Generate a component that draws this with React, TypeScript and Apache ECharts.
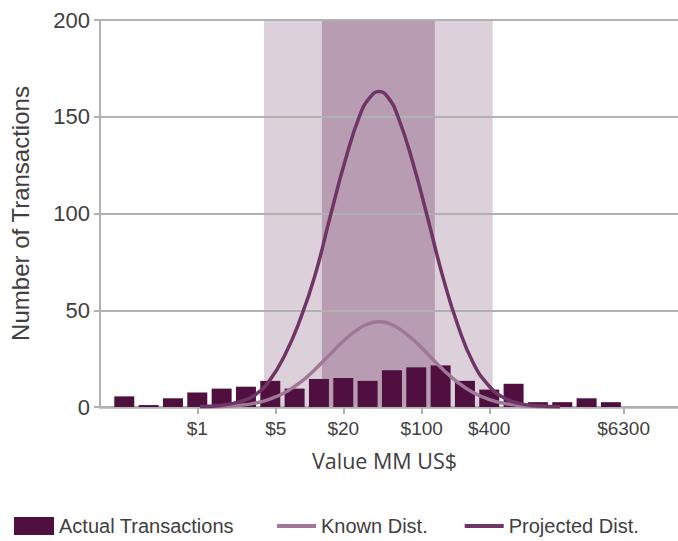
import React, { useEffect, useRef } from "react";
import * as echarts from "echarts";

// Histogram bins (bin centres, US$ millions) and counts
const binCentersUSD = [
  0.2236, 0.3684, 0.607, 1, 1.648, 2.714, 4.472, 7.368, 12.14, 20, 32.95,
  54.29, 89.44, 147.4, 242.8, 400, 659.1, 1086, 1789, 2948, 4857,
];
const actualTransactions = [
  5.5, 1, 4.5, 7.5, 9.5, 10.5, 13.5, 9.5, 14.5, 15, 13.5, 19, 20.5, 21.5, 13.5,
  9, 12, 2.5, 2.5, 4.5, 2.5,
];

// Distribution curves sampled along the x axis (US$ millions)
const curveUSD = [
  1.057, 1.593, 2.402, 3.268, 4.446, 6.047, 8.229, 11.19, 15.23, 20.72, 28.19,
  34.61, 41.64, 50.08, 61.49, 83.66, 113.8, 154.8, 210.6, 286.6, 389.9, 530.4,
  721.6, 1088, 1709,
];
const knownDist = [
  0.1, 0.3, 0.9, 2, 4.1, 7.5, 12.6, 19.4, 27.2, 34.9, 40.9, 43.3, 44, 43.3,
  40.9, 34.9, 27.2, 19.4, 12.6, 7.5, 4.1, 2, 0.9, 0.3, 0.1,
];
const projectedDist = [
  0.2, 0.8, 2.8, 6.2, 14, 27, 45, 68, 98, 127, 151, 160, 163, 160, 150, 126, 97,
  67, 42, 23, 11.5, 5, 2, 0.6, 0.1,
];

// Shaded ranges (US$ millions)
const outerRangeUSD = [3.93, 429];
const innerRangeUSD = [12.9, 131];

// Axis ticks
const xTickUSD = [1, 5, 20, 100, 400, 6300];
const xRangeUSD = [0.1358, 19240];
const yMin = 0;
const yMax = 200;
const yInterval = 50;

const SANS = "'Liberation Sans', Arial, sans-serif";
const TEXT = "#404040";
const AXIS = "#b1b1b1";
const BAR = "#4f1040";
const KNOWN = "#9f7897";
const PROJ = "#6e3565";

const lg = (v: number) => Math.log10(v);

export default function App() {
  const ref = useRef<HTMLDivElement>(null);

  useEffect(() => {
    document.body.style.margin = "0";
    if (!ref.current) return;
    const chart = echarts.init(ref.current, null, { renderer: "svg" });
    const xTicks = xTickUSD.map(lg);
    const legendText = {
      fontSize: 20,
      lineHeight: 20,
      color: TEXT,
      fontFamily: SANS,
    };

    chart.setOption({
      animation: false,
      grid: {
        left: 100,
        right: 0,
        top: 20,
        bottom: 134,
        containLabel: false,
        outerBoundsMode: "none",
      },
      legend: [
        {
          left: 14,
          top: 516,
          padding: 0,
          itemWidth: 40,
          itemHeight: 18,
          textStyle: legendText,
          data: [{ name: "Actual Transactions", icon: "rect" }],
        },
        {
          left: 277,
          top: 516,
          padding: 0,
          itemWidth: 39,
          itemHeight: 4,
          itemGap: 37,
          textStyle: legendText,
          data: [
            { name: "Known Dist.", icon: "rect", itemStyle: { color: KNOWN } },
            { name: "Projected Dist.", icon: "rect", itemStyle: { color: PROJ } },
          ],
        },
      ],
      xAxis: {
        type: "value",
        min: lg(xRangeUSD[0]),
        max: lg(xRangeUSD[1]),
        z: 1,
        axisLine: {
          show: true,
          onZero: false,
          lineStyle: { color: AXIS, width: 2.5 },
        },
        axisTick: {
          show: true,
          customValues: xTicks,
          length: 7,
          lineStyle: { color: AXIS, width: 2 },
        },
        axisLabel: {
          customValues: xTicks,
          formatter: (v: number) => "$" + Math.round(Math.pow(10, v)),
          fontSize: 19,
          color: TEXT,
          fontFamily: SANS,
          margin: 12,
        },
        splitLine: { show: false },
        name: "Value MM US$",
        nameLocation: "middle",
        nameGap: 42,
        nameTextStyle: {
          fontSize: 21.5,
          color: TEXT,
          fontFamily: "'Open Sans', 'Noto Sans', sans-serif",
          padding: [0, 9, 0, 0],
        },
      },
      yAxis: {
        type: "value",
        min: yMin,
        max: yMax,
        interval: yInterval,
        z: 1,
        axisLine: {
          show: true,
          onZero: false,
          lineStyle: { color: AXIS, width: 2 },
        },
        axisTick: {
          show: true,
          length: 6,
          lineStyle: { color: AXIS, width: 2 },
        },
        axisLabel: {
          fontSize: 22,
          color: TEXT,
          fontFamily: SANS,
          margin: 10,
        },
        splitLine: { show: true, lineStyle: { color: AXIS, width: 2 } },
        name: "Number of Transactions",
        nameLocation: "middle",
        nameGap: 68,
        nameTextStyle: { fontSize: 24, color: TEXT, fontFamily: SANS },
      },
      series: [
        {
          name: "Actual Transactions",
          type: "bar",
          barWidth: 20,
          z: 2,
          itemStyle: { color: BAR },
          data: binCentersUSD.map((c, i) => [lg(c), actualTransactions[i]]),
          markArea: {
            silent: true,
            z: 0,
            data: [
              [
                { xAxis: lg(outerRangeUSD[0]), itemStyle: { color: "#dcd0da" } },
                { xAxis: lg(outerRangeUSD[1]) },
              ],
              [
                { xAxis: lg(innerRangeUSD[0]), itemStyle: { color: "#b89db2" } },
                { xAxis: lg(innerRangeUSD[1]) },
              ],
            ],
          },
        },
        {
          name: "Known Dist.",
          type: "line",
          smooth: true,
          symbol: "none",
          z: 3,
          lineStyle: { color: KNOWN, width: 3.5 },
          itemStyle: { color: KNOWN },
          data: curveUSD.map((c, i) => [lg(c), knownDist[i]]),
        },
        {
          name: "Projected Dist.",
          type: "line",
          smooth: true,
          symbol: "none",
          z: 4,
          lineStyle: { color: PROJ, width: 3.5 },
          itemStyle: { color: PROJ },
          data: curveUSD.map((c, i) => [lg(c), projectedDist[i]]),
        },
      ],
    });

    return () => chart.dispose();
  }, []);

  return (
    <div
      ref={ref}
      style={{ position: "absolute", left: 0, top: 0, width: 678, height: 541 }}
    />
  );
}
